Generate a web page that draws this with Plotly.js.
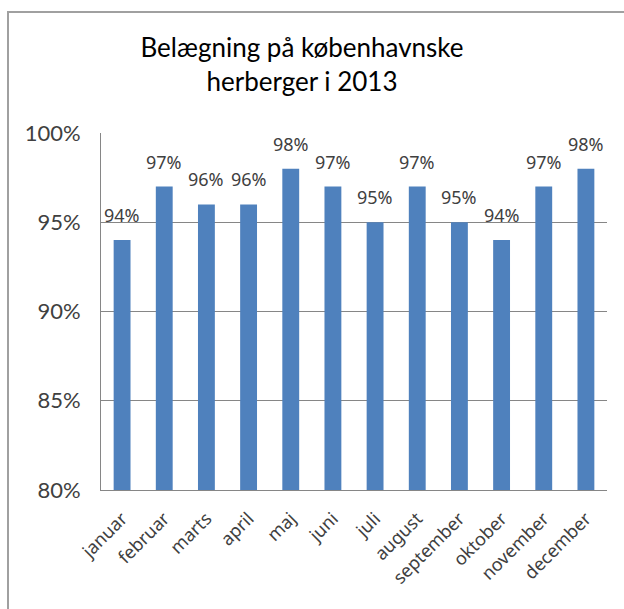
<!DOCTYPE html>
<html>
<head>
<meta charset="utf-8">
<script src="https://cdn.plot.ly/plotly-3.0.1.min.js"></script>
<style>
  html, body { margin: 0; padding: 0; background: #ffffff; }
  #chart { width: 624px; height: 609px; }
</style>
</head>
<body>
<div id="chart"></div>
<script>
const months = ["januar", "februar", "marts", "april", "maj", "juni", "juli", "august", "september", "oktober", "november", "december"];
const occupancy = [94, 97, 96, 96, 98, 97, 95, 97, 95, 94, 97, 98];
const yTicks = [80, 85, 90, 95, 100];
const yTickLabels = ["80%", "85%", "90%", "95%", "100%"];
const chartTitle = "Belægning på københavnske<br>herberger i 2013";

const trace = {
  type: "bar",
  x: months,
  y: occupancy,
  marker: { color: "#4f81bd", line: { width: 0 } },
  hoverinfo: "none"
};

const valueLabels = months.map((m, i) => ({
  x: m,
  y: occupancy[i],
  xref: "x",
  yref: "y",
  text: occupancy[i] + "%",
  showarrow: false,
  xanchor: "center",
  yanchor: "bottom",
  yshift: 11,
  font: { family: "Noto Sans, Open Sans, sans-serif", size: 18, color: "#404040" }
}));

const layout = {
  width: 624,
  height: 609,
  paper_bgcolor: "#ffffff",
  plot_bgcolor: "#ffffff",
  showlegend: false,
  bargap: 0.6,
  margin: { l: 101, r: 17, t: 133, b: 119 },
  title: {
    text: chartTitle,
    xref: "container",
    yref: "container",
    x: 302 / 624,
    xanchor: "center",
    y: 1 - 57 / 609,
    yanchor: "top",
    font: { family: "Lato, sans-serif", size: 26, color: "#000000" }
  },
  xaxis: {
    type: "category",
    tickangle: -45,
    showgrid: false,
    showline: true,
    linecolor: "#868686",
    linewidth: 1,
    ticks: "",
    ticklabelstandoff: 10,
    tickfont: { family: "Noto Sans, Open Sans, sans-serif", size: 18, color: "#404040" },
    fixedrange: true
  },
  yaxis: {
    range: [80, 100],
    tickvals: yTicks,
    ticktext: yTickLabels,
    showgrid: true,
    gridcolor: "#868686",
    gridwidth: 1,
    showline: true,
    linecolor: "#868686",
    linewidth: 1,
    ticks: "",
    zeroline: false,
    ticklabelstandoff: 15,
    tickfont: { family: "Lato, sans-serif", size: 22, color: "#404040" },
    fixedrange: true
  },
  annotations: valueLabels,
  shapes: [
    {
      type: "rect",
      xref: "paper", yref: "paper",
      x0: (8 - 101) / 506, x1: (640 - 101) / 506,
      y0: (490 - 620) / 357, y1: (490 - 12) / 357,
      line: { color: "#a0a0a0", width: 2 },
      fillcolor: "rgba(0,0,0,0)",
      layer: "below"
    }
  ]
};

Plotly.newPlot("chart", [trace], layout, { displayModeBar: false, staticPlot: true });
</script>
</body>
</html>
